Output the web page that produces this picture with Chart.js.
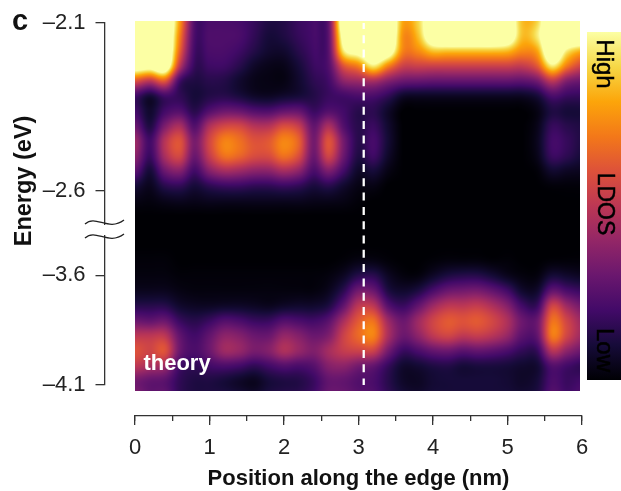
<!DOCTYPE html>
<html>
<head>
<meta charset="utf-8">
<style>
  html, body { margin: 0; padding: 0; background: #fff; overflow: hidden; }
  canvas { display: block; filter: blur(0.5px); }
</style>
<script src="https://cdn.jsdelivr.net/npm/chart.js@4/dist/chart.umd.min.js"></script>
</head>
<body>
<canvas id="ldosChart" width="621" height="491"></canvas>
<script>
// Axis labels
const xTitle = 'Position along the edge (nm)';
const yTitle = 'Energy (eV)';
const yTickLabels = ['\u20132.1', '\u20132.6', '\u20133.6', '\u20134.1'];
// the energy axis is broken, so ticks sit at row numbers of the map
const yTickRows = [0.13, 11.31, 16.95, 24.25];

// Edge position marked with the dashed line (nm)
const dividerX = [3.07, 3.07];
const dividerRows = [0, 24.47];

// Map columns (nm)
const positions = [0, 0.2, 0.4, 0.6, 0.8, 1, 1.2, 1.4, 1.6, 1.8, 2, 2.2, 2.4, 2.6, 2.8, 3, 3.2, 3.4, 3.6, 3.8, 4, 4.2, 4.4, 4.6, 4.8, 5, 5.2, 5.4, 5.6, 5.8, 6];
const mapEndX = 5.97;
const rowCount = 24.667;

// LDOS, one line per map row, top to bottom (over 1 = saturated)
const ldos = [
  [1.3,1.3,1.3,.78,.23,.22,.22,.21,.17,.12,.13,.18,.21,.28,1.2,1.3,1.3,1.3,.8,.9,1.2,1.3,1.3,1.3,1.3,1.2,.85,.9,1.3,1.3,1.3],
  [1.3,1.3,1.3,.72,.22,.23,.23,.22,.16,.1,.12,.17,.21,.27,1.1,1.3,1.3,1.3,.75,.85,1.2,1.3,1.3,1.3,1.3,1.2,.85,.95,1.3,1.3,1.3],
  [1.3,1.25,1.3,.65,.2,.22,.22,.19,.13,.08,.08,.14,.2,.26,.95,1.1,1.25,1.15,.72,.74,.86,.86,.86,.86,.86,.84,.74,.8,1.25,.95,.82],
  [1.15,1.1,1.2,.5,.17,.19,.19,.14,.07,.04,.04,.1,.18,.24,.6,.72,.95,.72,.54,.54,.54,.54,.54,.54,.54,.54,.52,.62,.95,.7,.55],
  [.6,.5,.62,.2,.12,.14,.13,.08,.04,.03,.03,.08,.15,.2,.38,.42,.45,.36,.3,.29,.28,.28,.28,.28,.28,.28,.27,.32,.5,.35,.3],
  [.2,.1,.2,.16,.1,.13,.14,.11,.07,.06,.08,.1,.13,.18,.2,.22,.22,.16,.07,.06,.06,.06,.06,.06,.06,.06,.06,.1,.22,.18,.17],
  [.2,.08,.2,.24,.14,.24,.3,.29,.24,.23,.28,.28,.18,.24,.2,.14,.15,.07,0,0,0,0,0,0,0,0,0,.03,.12,.1,.1],
  [.3,.12,.34,.45,.24,.46,.56,.56,.48,.48,.58,.52,.28,.45,.24,.14,.18,.08,0,0,0,0,0,0,0,0,0,.04,.17,.14,.12],
  [.42,.2,.48,.6,.33,.56,.72,.68,.6,.62,.73,.64,.32,.6,.32,.14,.21,.09,0,0,0,0,0,0,0,0,0,.05,.2,.17,.12],
  [.38,.18,.45,.56,.3,.52,.68,.65,.58,.58,.68,.58,.3,.55,.3,.12,.19,.07,0,0,0,0,0,0,0,0,0,.04,.18,.15,.1],
  [.26,.1,.3,.36,.2,.36,.44,.42,.38,.38,.44,.38,.22,.34,.2,.07,.1,.03,0,0,0,0,0,0,0,0,0,.01,.08,.06,.05],
  [.1,.05,.14,.16,.1,.15,.18,.18,.16,.16,.18,.16,.11,.14,.08,.03,.03,0,0,0,0,0,0,0,0,0,0,0,.01,.01,.01],
  [.03,.02,.04,.05,.04,.05,.05,.05,.05,.05,.05,.05,.04,.04,.03,.01,0,0,0,0,0,0,0,0,0,0,0,0,0,0,0],
  [0,0,0,0,0,0,0,0,0,0,0,0,0,0,0,0,0,0,0,0,0,0,0,0,0,0,0,0,0,0,0],
  [0,0,0,0,0,0,0,0,0,0,0,0,0,0,0,0,0,0,0,0,0,0,0,0,0,0,0,0,0,0,0],
  [0,0,0,0,0,0,0,0,0,0,0,0,0,0,0,0,0,0,0,0,0,0,0,0,0,0,0,0,0,0,0],
  [.01,.01,.01,0,0,0,0,0,0,0,0,0,0,0,.01,.03,.03,.01,0,0,.01,.02,.02,.02,.01,.01,0,0,.01,.01,.01],
  [.02,.02,.02,.01,.01,.01,.01,.01,.01,.01,.01,.01,.01,.02,.06,.14,.15,.06,.02,.02,.07,.12,.14,.14,.1,.05,.02,.02,.1,.08,.06],
  [.05,.05,.05,.03,.02,.02,.02,.02,.02,.02,.02,.02,.02,.05,.15,.32,.3,.12,.08,.12,.22,.3,.32,.33,.28,.2,.08,.08,.28,.22,.18],
  [.14,.14,.14,.08,.06,.06,.07,.07,.06,.05,.07,.08,.08,.12,.28,.5,.5,.25,.18,.28,.42,.5,.5,.52,.46,.36,.2,.18,.55,.42,.32],
  [.3,.28,.3,.18,.14,.18,.24,.22,.18,.18,.24,.22,.2,.26,.45,.62,.68,.42,.3,.42,.55,.62,.6,.62,.56,.46,.3,.3,.68,.55,.42],
  [.5,.5,.5,.28,.2,.28,.38,.36,.3,.3,.4,.36,.3,.35,.54,.66,.72,.45,.3,.38,.5,.55,.5,.52,.48,.4,.26,.28,.7,.55,.42],
  [.6,.55,.6,.3,.22,.3,.42,.4,.33,.36,.46,.4,.35,.44,.52,.54,.54,.32,.18,.22,.28,.3,.26,.28,.26,.22,.16,.17,.48,.38,.3],
  [.5,.45,.42,.2,.16,.2,.22,.2,.16,.2,.24,.22,.25,.36,.38,.32,.28,.17,.08,.09,.12,.13,.1,.11,.11,.1,.08,.09,.24,.2,.16],
  [.32,.28,.26,.16,.12,.12,.1,.07,.05,.1,.12,.13,.18,.28,.28,.24,.22,.14,.07,.06,.09,.1,.1,.1,.1,.09,.07,.1,.22,.18,.2],
  [.35,.28,.28,.16,.12,.12,.12,.1,.08,.12,.14,.15,.2,.3,.3,.26,.24,.16,.1,.08,.1,.1,.1,.1,.1,.1,.09,.12,.25,.2,.24]
];

// Inferno stops, evenly spaced from low to high
const colorStops = ['#000004', '#160b39', '#420a68', '#6a176e', '#932667', '#bc3754', '#dd513a', '#f37819', '#fca50a', '#f6d746', '#fcffa4'];
const stopRgb = colorStops.map(c => [1, 3, 5].map(i => parseInt(c.slice(i, i + 2), 16)));

function colorAt(v) {
    const t = Math.min(Math.max(v, 0), 1) * (stopRgb.length - 1);
    const i = Math.min(Math.floor(t), stopRgb.length - 2);
    const f = t - i;
    return stopRgb[i].map((c, k) => c + (stopRgb[i + 1][k] - c) * f);
}

function cubic(a, b, c, d, t) {
    return b + 0.5 * t * (c - a + t * (2 * a - 5 * b + 4 * c - d + t * (3 * (b - c) + d - a)));
}

// Smooth reading of the map at a fractional column / row
function sampleMap(col, row) {
    const nr = ldos.length, nc = positions.length;
    const r0 = Math.min(Math.floor(row), nr - 2), c0 = Math.min(Math.floor(col), nc - 2);
    const vals = [];
    for (let r = r0 - 1; r <= r0 + 2; r++) {
        const line = ldos[Math.max(0, Math.min(nr - 1, r))];
        const pick = c => line[Math.max(0, Math.min(nc - 1, c))];
        vals.push(cubic(pick(c0 - 1), pick(c0), pick(c0 + 1), pick(c0 + 2), col - c0));
    }
    return cubic(vals[0], vals[1], vals[2], vals[3], row - r0);
}

// Paints the LDOS map underneath the datasets, through the x and y scales
const ldosMapPlugin = {
    id: 'ldosMap',
    beforeDatasetsDraw(chart) {
        const { ctx, scales } = chart;
        const left = Math.round(scales.x.getPixelForValue(positions[0]));
        const right = Math.round(scales.x.getPixelForValue(mapEndX));
        const top = Math.round(scales.y.getPixelForValue(0));
        const bottom = Math.round(scales.y.getPixelForValue(rowCount));
        const w = right - left, h = bottom - top;
        const image = ctx.createImageData(w, h);
        const colStep = positions[1] - positions[0];
        for (let py = 0; py < h; py++) {
            const row = scales.y.getValueForPixel(top + py + 0.5);
            for (let px = 0; px < w; px++) {
                const col = scales.x.getValueForPixel(left + px + 0.5) / colStep;
                const rgb = colorAt(sampleMap(col, row));
                const o = (py * w + px) * 4;
                image.data[o] = rgb[0];
                image.data[o + 1] = rgb[1];
                image.data[o + 2] = rgb[2];
                image.data[o + 3] = 255;
            }
        }
        ctx.putImageData(image, left, top);
    }
};

// Moves the axes away from the map, as in the figure
const detachedAxesPlugin = {
    id: 'detachedAxes',
    afterLayout(chart) {
        const { x, x2, y } = chart.scales;
        x.top = 416; x.bottom = 492;
        x2.top = 416; x2.bottom = 492;
        y.left = 0; y.right = 104.5;
        y.top = 23; y.bottom = 385;
    }
};

function rotatedText(ctx, text, x, y, angle, font, color, weight) {
    ctx.save();
    ctx.translate(x, y);
    ctx.rotate(angle);
    ctx.font = font;
    ctx.fillStyle = color;
    ctx.textAlign = 'center';
    ctx.textBaseline = 'middle';
    ctx.fillText(text, 0, 0);
    if (weight) {
        // the colour bar labels are a little heavier than the regular face
        ctx.strokeStyle = color;
        ctx.lineWidth = weight;
        ctx.strokeText(text, 0, 0);
    }
    ctx.restore();
}

// Axis break, colour bar and the loose labels
const annotationsPlugin = {
    id: 'annotations',
    afterDraw(chart) {
        const { ctx } = chart;
        const sans = '"Liberation Sans", Arial, sans-serif';

        ctx.fillStyle = '#fff';
        ctx.fillRect(100, 225, 9, 10);
        ctx.strokeStyle = '#222';
        ctx.lineWidth = 1.3;
        [222, 236].forEach(cy => {
            ctx.beginPath();
            ctx.moveTo(85, cy + 2);
            ctx.bezierCurveTo(96, cy - 8, 108, cy + 10, 124, cy - 2);
            ctx.stroke();
        });

        const bar = ctx.createLinearGradient(0, 380, 0, 32);
        colorStops.forEach((c, i) => bar.addColorStop(i / (colorStops.length - 1), c));
        ctx.fillStyle = bar;
        ctx.fillRect(587, 32, 34, 348);

        const side = Math.PI / 2;
        rotatedText(ctx, 'High', 604, 64, side, '24px ' + sans, '#000', 0.5);
        rotatedText(ctx, 'LDOS', 604, 204, side, '23px ' + sans, '#000', 0.5);
        rotatedText(ctx, 'Low', 604, 350, side, '24px ' + sans, '#000', 0.5);
        rotatedText(ctx, yTitle, 25, 181, -side, 'bold 23.5px ' + sans, '#111');
        rotatedText(ctx, 'c', 20, 22, 0, 'bold 29px ' + sans, '#111');
        rotatedText(ctx, 'theory', 177, 364, 0, 'bold 22px ' + sans, '#fff');
    }
};

const mapCells = [];
ldos.forEach((line, r) => line.forEach((v, c) => mapCells.push({ x: positions[c], y: r, v: v })));

new Chart(document.getElementById('ldosChart').getContext('2d'), {
    type: 'scatter',
    data: {
        datasets: [
            {
                label: 'LDOS',
                data: mapCells,
                pointRadius: 0,
                showLine: false
            },
            {
                label: 'Edge position',
                data: dividerX.map((x, i) => ({ x: x, y: dividerRows[i] })),
                showLine: true,
                pointRadius: 0,
                borderColor: '#fff',
                borderWidth: 2.3,
                borderDash: [8, 6.3]
            }
        ]
    },
    options: {
        responsive: false,
        animation: false,
        events: [],
        layout: { padding: { left: 0, top: 21, right: 39, bottom: 0 } },
        plugins: { legend: { display: false }, tooltip: { enabled: false } },
        scales: {
            x: {
                type: 'linear',
                position: 'bottom',
                min: 0,
                max: 6,
                afterFit(scale) { scale.height = 100; scale.paddingLeft = 0; scale.paddingRight = 0; },
                border: { color: '#333', width: 1.3 },
                grid: { drawOnChartArea: false, color: '#333', lineWidth: 1.3, tickLength: 9 },
                ticks: {
                    stepSize: 1,
                    padding: 10,
                    maxRotation: 0,
                    color: '#222',
                    font: { family: '"Liberation Sans", Arial, sans-serif', size: 22 }
                },
                title: {
                    display: true,
                    text: xTitle,
                    color: '#111',
                    padding: 0,
                    font: { family: '"Liberation Sans", Arial, sans-serif', size: 22, weight: 'bold' }
                }
            },
            // half-step ticks only
            x2: {
                type: 'linear',
                position: 'bottom',
                min: 0,
                max: 6,
                afterFit(scale) { scale.height = 0; },
                border: { display: false },
                grid: { drawOnChartArea: false, color: '#333', lineWidth: 1.3, tickLength: 5 },
                ticks: { stepSize: 0.5, display: false }
            },
            y: {
                type: 'linear',
                position: 'left',
                min: 0,
                max: rowCount,
                reverse: true,
                afterFit(scale) { scale.width = 135; scale.paddingTop = 0; scale.paddingBottom = 0; },
                afterBuildTicks(scale) { scale.ticks = yTickRows.map(v => ({ value: v })); },
                border: { color: '#333', width: 1.3 },
                grid: { drawOnChartArea: false, color: '#333', lineWidth: 1.3, tickLength: 9 },
                ticks: {
                    autoSkip: false,
                    padding: 10,
                    color: '#222',
                    font: { family: '"Liberation Sans", Arial, sans-serif', size: 22 },
                    callback: (value, i) => yTickLabels[i]
                }
            }
        }
    },
    plugins: [detachedAxesPlugin, ldosMapPlugin, annotationsPlugin]
});
</script>
</body>
</html>
